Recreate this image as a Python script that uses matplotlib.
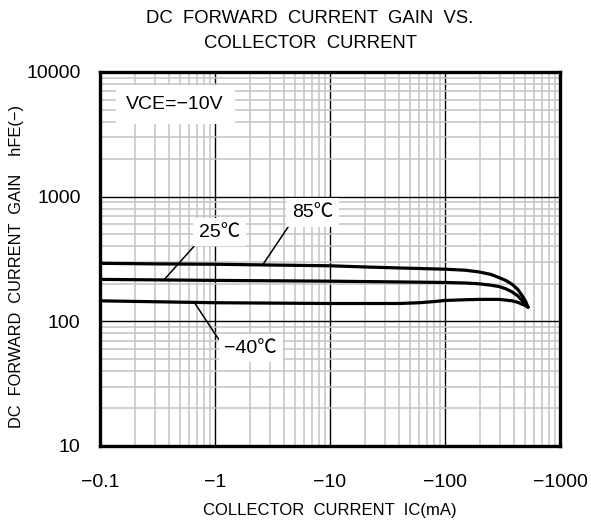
import matplotlib
matplotlib.use('Agg')
import matplotlib.pyplot as plt
from matplotlib.ticker import LogLocator, FixedLocator, NullFormatter
import numpy as np

plt.rcParams['font.family'] = ['Liberation Sans', 'Noto Sans CJK JP', 'DejaVu Sans']

# collector current (mA, magnitude) and hFE
ic_85 = [0.1, 0.3, 1, 3, 10, 20, 40, 100, 150, 198, 250, 296, 340, 384, 430, 470, 500, 527]
hfe_85 = [292, 289, 287, 283, 279, 273, 268, 262, 257, 249, 238, 224, 212, 198, 180, 160, 146, 130]

ic_25 = [0.1, 1, 10, 40, 100, 150, 198, 250, 296, 340, 384, 430, 470, 500, 527]
hfe_25 = [217, 213, 210, 207, 205, 203, 200, 195, 190, 182, 172, 160, 146, 138, 130]

ic_m40 = [0.1, 1, 10, 40, 60, 80, 100, 150, 198, 296, 384, 430, 470, 500, 527]
hfe_m40 = [146, 141, 139, 139, 141, 144, 147, 149, 150, 150, 146, 142, 137, 134, 130]

x_ticks = [0.1, 1, 10, 100, 1000]
x_labels = ['\u22120.1', '\u22121', '\u221210', '\u2212100', '\u22121000']
y_ticks = [10, 100, 1000, 10000]
y_labels = ['10', '100', '1000', '10000']

fig = plt.figure(figsize=(5.91, 5.22), dpi=100)
ax = fig.add_axes([100/591, 1 - 446/522, 460/591, 374/522])

ax.set_xscale('log')
ax.set_yscale('log')
ax.set_xlim(0.1, 1000)
ax.set_ylim(10, 10000)

# grid: gray minor, black major
ax.xaxis.set_major_locator(FixedLocator(x_ticks))
ax.yaxis.set_major_locator(FixedLocator(y_ticks))
ax.xaxis.set_minor_locator(LogLocator(base=10, subs=np.arange(2, 10)))
ax.yaxis.set_minor_locator(LogLocator(base=10, subs=np.arange(2, 10)))
ax.xaxis.set_minor_formatter(NullFormatter())
ax.yaxis.set_minor_formatter(NullFormatter())
ax.grid(which='minor', color='#c4c4c4', linewidth=1.1)
ax.grid(which='major', color='black', linewidth=1.0)
ax.set_axisbelow(True)

ax.set_xticklabels(x_labels)
ax.set_yticklabels(y_labels)
ax.tick_params(which='both', length=0)
ax.tick_params(axis='x', pad=20, labelsize=14)
ax.tick_params(axis='y', pad=14, labelsize=14)

for sp in ax.spines.values():
    sp.set_linewidth(2.4)
    sp.set_zorder(5)

for xs, ys in [(ic_85, hfe_85), (ic_25, hfe_25), (ic_m40, hfe_m40)]:
    ax.plot(xs, ys, color='black', linewidth=2.3, solid_capstyle='round',
            solid_joinstyle='round', zorder=3)

box = dict(boxstyle='square,pad=0.3', facecolor='white', edgecolor='none')
ax.text(0.45, 5500, 'VCE=\u221210V', fontsize=14, ha='center', va='center',
        bbox=dict(boxstyle='square,pad=0.55', facecolor='white', edgecolor='none'), zorder=4)

ax.annotate('25\u2103', xy=(0.36, 215), xytext=(1.1, 520), fontsize=14,
            ha='center', va='center', bbox=box, zorder=4,
            arrowprops=dict(arrowstyle='-', color='black', lw=1.1,
                            relpos=(0.0, 0.0), shrinkA=0, shrinkB=0))
ax.annotate('85\u2103', xy=(2.6, 284), xytext=(7.1, 750), fontsize=14,
            ha='center', va='center', bbox=box, zorder=4,
            arrowprops=dict(arrowstyle='-', color='black', lw=1.1,
                            relpos=(0.0, 0.0), shrinkA=0, shrinkB=0))
ax.annotate('\u221240\u2103', xy=(0.66, 142), xytext=(2.05, 61), fontsize=14,
            ha='center', va='center', bbox=box, zorder=4,
            arrowprops=dict(arrowstyle='-', color='black', lw=1.1,
                            relpos=(0.0, 0.5), shrinkA=0, shrinkB=0))

fig.text(330/591, 1 - 510/522, 'COLLECTOR  CURRENT  IC(mA)', fontsize=12,
         ha='center', va='center')
fig.text(17/591, 1 - 266/522, 'DC  FORWARD  CURRENT  GAIN    hFE(\u2212)', fontsize=11.8,
         ha='center', va='center', rotation=90)

fig.text(310/591, 1 - 31/522, 'DC  FORWARD  CURRENT  GAIN  VS.\nCOLLECTOR  CURRENT',
         ha='center', va='center', fontsize=13.3, linespacing=1.55)

fig.savefig('out.png', dpi=100)
